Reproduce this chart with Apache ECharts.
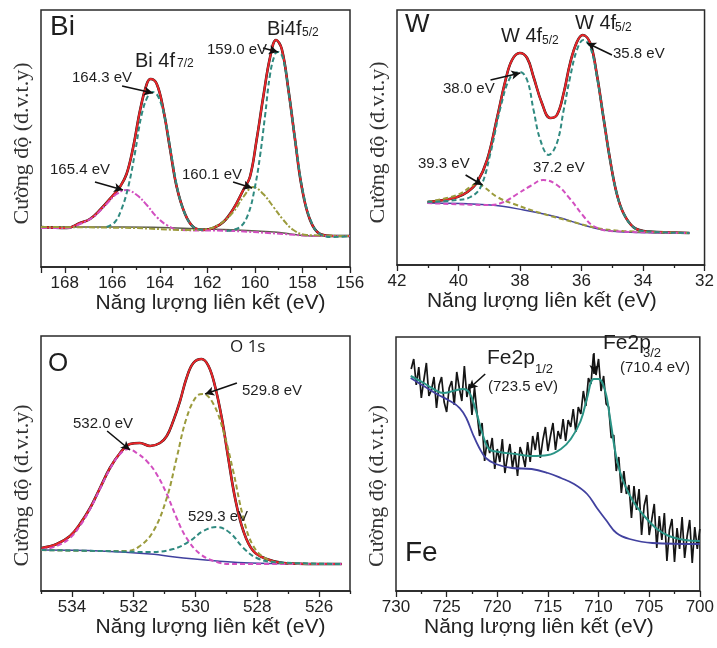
<!DOCTYPE html>
<html>
<head>
<meta charset="utf-8">
<script src="https://cdn.jsdelivr.net/npm/echarts/dist/echarts.min.js"></script>
<style>
  html, body { margin: 0; padding: 0; background: #fff; }
  #chart { width: 717px; height: 648px; }
</style>
</head>
<body>
<div id="chart"></div>
<script>
// ---- Bi 4f ----
const biEnvelope = [[169.00,40],[167.92,39],[167.36,44],[166.94,48],[166.52,57],[165.96,72],[165.68,80],[165.40,93],[165.12,120],[164.83,157],[164.55,183],[164.39,188],[164.13,183],[163.85,157],[163.57,118],[163.29,80],[162.94,53],[162.59,40],[162.17,37],[161.75,39],[161.33,45],[160.91,58],[160.49,77],[160.21,90],[159.93,127],[159.65,170],[159.36,210],[159.11,227],[158.87,218],[158.59,177],[158.31,127],[158.03,80],[157.68,47],[157.26,33],[156.70,31],[156.00,31]]
const biPeak1 = [[166.24,40],[165.89,45],[165.61,58],[165.33,80],[165.04,115],[164.76,153],[164.48,172],[164.30,175],[164.06,170],[163.78,148],[163.50,110],[163.22,74],[162.94,53],[162.59,40],[162.17,37]]
const biPeak2 = [[169.00,39],[167.92,39],[167.36,43],[166.80,50],[166.24,63],[165.82,73],[165.40,77],[164.97,72],[164.55,62],[164.13,50],[163.71,42],[163.15,37],[160.91,36],[158.80,33],[157.40,31],[156.00,31]]
const biPeak3 = [[169.00,40],[165.12,39],[162.87,37],[162.03,38],[161.47,43],[160.91,55],[160.49,70],[160.07,80],[159.65,73],[159.22,60],[158.80,47],[158.38,37],[157.82,32],[156.00,31]]
const biPeak4 = [[161.19,36],[160.63,40],[160.28,53],[160.00,80],[159.79,110],[159.58,150],[159.36,193],[159.15,213],[159.01,215],[158.80,207],[158.52,165],[158.24,115],[157.96,73],[157.61,44],[157.26,33],[156.70,30],[156.00,31]]
const biBase = [[169.00,40],[165.60,40],[162.00,38],[159.20,35],[157.60,31],[156.00,31]]
const biArrows = [[[165.59,181],[164.29,174]],[[159.66,219],[159.03,215]],[[166.73,85],[165.55,77]],[[160.92,85],[160.12,79]]]

// ---- W 4f ----
const wEnvelope = [[41.01,63],[40.47,65],[40.04,68],[39.71,73],[39.39,83],[39.07,105],[38.74,148],[38.47,185],[38.26,205],[38.01,212],[37.77,207],[37.56,188],[37.29,162],[37.02,147],[36.80,150],[36.58,172],[36.37,202],[36.15,223],[35.96,230],[35.72,222],[35.51,192],[35.29,148],[35.07,105],[34.86,72],[34.64,52],[34.32,38],[33.99,34],[33.56,33],[32.49,32]]
const wDoublet = [[41.01,63],[40.04,65],[39.61,68],[39.28,78],[38.96,112],[38.63,158],[38.31,188],[38.01,193],[37.77,185],[37.56,155],[37.34,125],[37.07,110],[36.80,122],[36.58,155],[36.37,188],[36.15,215],[35.94,225],[35.72,218],[35.51,190],[35.29,148],[35.07,105],[34.86,72],[34.64,52],[34.32,38],[33.99,34],[32.49,32]]
const wOxide1 = [[41.01,63],[40.04,70],[39.61,78],[39.39,82],[39.17,78],[38.74,68],[38.20,61],[37.34,52],[36.26,43],[35.51,37],[34.64,34],[32.49,32]]
const wOxide2 = [[41.01,62],[38.96,60],[38.53,63],[38.09,71],[37.66,79],[37.25,85],[36.80,80],[36.37,66],[35.94,49],[35.61,39],[35.07,34],[32.49,32]]
const wBase = [[41.01,62],[38.96,60],[37.88,55],[36.80,48],[35.94,40],[35.29,35],[34.64,33],[32.49,32]]
const wArrows = [[[38.96,185],[37.99,192]],[[35.01,210],[35.82,222]],[[39.77,90],[39.22,80]]]

// ---- O 1s ----
const oEnvelope = [[534.98,43],[534.49,47],[534.06,55],[533.74,67],[533.41,83],[533.09,103],[532.77,123],[532.44,138],[532.12,147],[531.80,148],[531.47,145],[531.15,148],[530.93,155],[530.72,170],[530.50,190],[530.29,213],[530.07,228],[529.80,232],[529.58,225],[529.37,205],[529.15,173],[528.94,133],[528.72,93],[528.45,60],[528.13,40],[527.70,32],[527.16,28],[526.08,27],[525.27,27]]
const oPeak1 = [[534.98,41],[534.49,45],[534.06,53],[533.74,65],[533.41,82],[533.09,102],[532.77,122],[532.44,137],[532.17,142],[531.90,138],[531.58,130],[531.26,117],[530.93,97],[530.61,73],[530.29,53],[529.85,37],[529.31,29],[528.78,27],[525.27,27]]
const oPeak2 = [[534.98,41],[533.09,40],[532.23,40],[531.80,45],[531.36,60],[530.93,93],[530.61,133],[530.29,173],[529.96,195],[529.75,197],[529.42,187],[529.10,160],[528.78,120],[528.45,73],[528.13,45],[527.70,32],[527.16,28],[525.27,27]]
const oPeak3 = [[534.98,41],[533.09,40],[531.47,39],[530.72,42],[530.18,50],[529.75,60],[529.31,64],[528.88,58],[528.45,43],[528.02,33],[527.48,29],[525.27,27]]
const oBase = [[534.98,41],[533.09,40],[531.47,37],[530.39,33],[529.31,30],[528.24,28],[525.27,27]]
const oArrows = [[[528.66,208],[529.69,197]],[[532.86,160],[532.12,141]]]

// ---- Fe 2p ----
const feRaw = [[728.5,222],[728.25,232],[728.0,206],[727.75,224],[727.5,193],[727.25,211],[727.0,228],[726.75,195],[726.5,201],[726.25,214],[726.0,183],[725.75,206],[725.5,214],[725.25,189],[725.0,179],[724.75,203],[724.5,210],[724.25,186],[724.0,219],[723.75,203],[723.5,190],[723.25,225],[723.0,194],[722.75,207],[722.5,176],[722.25,204],[722.0,178],[721.75,155],[721.5,168],[721.25,130],[721.0,151],[720.75,138],[720.5,153],[720.25,122],[720.0,142],[719.75,129],[719.5,152],[719.25,118],[719.0,134],[718.75,147],[718.5,123],[718.25,139],[718.0,115],[717.75,144],[717.5,136],[717.25,124],[717.0,149],[716.75,129],[716.5,155],[716.25,141],[716.0,159],[715.75,133],[715.5,151],[715.25,164],[715.0,140],[714.75,155],[714.5,168],[714.25,141],[714.0,160],[713.75,152],[713.5,172],[713.25,150],[713.0,171],[712.75,164],[712.5,182],[712.25,159],[712.0,184],[711.75,177],[711.5,200],[711.25,185],[711.0,213],[710.75,207],[710.5,237],[710.25,216],[710.0,232],[709.75,200],[709.5,215],[709.25,187],[709.0,184],[708.75,153],[708.5,156],[708.25,120],[708.0,134],[707.75,98],[707.5,120],[707.25,97],[707.0,106],[706.75,73],[706.5,105],[706.25,81],[706.0,102],[705.75,56],[705.5,85],[705.25,96],[705.0,56],[704.75,71],[704.5,87],[704.25,43],[704.0,75],[703.75,51],[703.5,78],[703.25,30],[703.0,61],[702.75,72],[702.5,29],[702.25,63],[702.0,42],[701.75,74],[701.5,33],[701.25,55],[701.0,71],[700.75,28],[700.5,64],[700.25,42],[700.0,62]]
const feFit = [[728.55,215],[727.26,208],[726.29,202],[725.32,198],[724.35,200],[723.39,202],[722.74,198],[722.10,180],[721.45,157],[720.81,142],[719.84,139],[718.23,137],[716.61,135],[715.00,136],[713.71,142],[712.74,152],[711.77,170],[711.13,193],[710.48,212],[710.00,212],[709.35,200],[708.87,173],[708.23,133],[707.58,110],[706.61,90],[705.65,77],[704.35,63],[703.06,55],[701.45,51],[700.00,50]]
const feBack = [[728.55,213],[727.26,205],[725.97,197],[724.68,190],[723.71,183],[723.06,173],[722.42,157],[721.77,143],[721.13,133],[720.16,127],[718.55,123],[716.61,122],[715.00,118],[713.71,113],[712.42,107],[711.13,97],[710.16,83],[709.19,70],[708.23,58],[706.94,52],[704.68,48],[700.00,47]]
const feArrows = [[[721.19,217],[722.84,202]],[[710.44,238],[710.44,217]]]

const oMajorTicks = [526, 528, 530, 532, 534]
const oMinorTicks = [525, 527, 529, 531, 533, 535]

const xName = 'Năng lượng liên kết (eV)'
const yName = 'Cường độ (đ.v.t.y)'

const RED = '#e8262a', BLACK = '#151515', TEAL = '#2f8a80', PINK = '#d24fc0',
      OLIVE = '#9b9b3c', BLUE = '#41419f', GRAY = '#5c5c4a'

const chart = echarts.init(document.getElementById('chart'))

const grids = [
  { left: 41, top: 10, width: 309, height: 257 },
  { left: 397, top: 10, width: 309, height: 255 },
  { left: 41, top: 336, width: 309, height: 255 },
  { left: 396, top: 337, width: 310, height: 254 },
].map(g => ({ ...g, show: true, borderColor: '#2a2a2a', borderWidth: 1.5, backgroundColor: 'transparent' }))

function xAxis(gi, min, max, interval, leftPanel) {
  return {
    type: 'value', gridIndex: gi, min, max, interval, inverse: true,
    axisLine: { show: true, lineStyle: { color: '#222', width: 1.5 } },
    axisTick: { show: true, length: 6, lineStyle: { color: '#222', width: 1.3 } },
    minorTick: { show: true, splitNumber: 2, length: 3, lineStyle: { color: '#222', width: 1.3 } },
    axisLabel: { margin: 8, fontSize: 17, color: '#222', fontFamily: 'Liberation Sans Narrow, Liberation Sans, Arial' },
    splitLine: { show: false }, minorSplitLine: { show: false },
    name: xName, nameLocation: 'middle', nameGap: 26,
    nameTextStyle: { fontSize: 21, color: '#222', fontFamily: 'Liberation Sans, Arial',
      padding: leftPanel ? [0, 0, 0, 30] : [0, 18, 0, 0] },
  }
}

const xAxes = [
  xAxis(0, 156, 169, 2, true),
  xAxis(1, 32, 42, 2, false),
  xAxis(2, 525, 535, null, true),
  xAxis(3, 700, 730, 5, false),
]
// O panel: even labels, minor ticks on odd values through a second axis
delete xAxes[2].interval
xAxes[2].minorTick = { show: false }
xAxes[2].axisLabel.customValues = oMajorTicks
xAxes[2].axisTick.customValues = oMajorTicks
xAxes.push({
  type: 'value', gridIndex: 2, min: 525, max: 535, inverse: true, position: 'bottom',
  axisLine: { show: false }, axisLabel: { show: false }, splitLine: { show: false },
  axisTick: { show: true, length: 3, customValues: oMinorTicks, lineStyle: { color: '#222', width: 1.3 } },
})

const yMax = [257, 255, 255, 254]
const yShift = [10, 10, 44, 44]   // pushes the rotated name down a little
const yAxes = yMax.map((m, gi) => ({
  type: 'value', gridIndex: gi, min: 0, max: m,
  axisLine: { show: false }, axisTick: { show: false }, axisLabel: { show: false }, splitLine: { show: false },
  name: yName, nameLocation: 'middle', nameGap: 8,
  nameTextStyle: { fontSize: 22, color: '#333', fontFamily: 'Liberation Serif, Times New Roman, serif',
    padding: [0, yShift[gi], 0, 0] },
}))

function line(gi, data, color, opts = {}) {
  return {
    type: 'line', xAxisIndex: gi, yAxisIndex: gi, data, showSymbol: false, silent: true,
    smooth: opts.smooth === undefined ? 0.4 : opts.smooth, z: opts.z || 2,
    lineStyle: { color, width: opts.width || 2, type: opts.type || 'solid' },
  }
}
function arrows(gi, list) {
  return {
    type: 'line', xAxisIndex: gi, yAxisIndex: gi, data: [], silent: true, z: 5,
    markLine: {
      silent: true, animation: false, symbol: ['none', 'arrow'], symbolSize: [7, 9],
      label: { show: false }, lineStyle: { color: '#111', width: 1.6, type: 'solid' },
      data: list.map(a => [{ coord: a[0] }, { coord: a[1] }]),
    },
  }
}
const dash = [5, 3], dashDot = [6, 2, 2, 2]

const series = [
  line(0, biBase, GRAY, { width: 1.5, z: 1 }),
  line(0, biEnvelope, BLACK, { width: 2.6, z: 2 }),
  line(0, biEnvelope, RED, { width: 2, z: 3 }),
  line(0, biPeak2, PINK, { type: dashDot, z: 4 }),
  line(0, biPeak3, OLIVE, { type: dashDot, z: 4 }),
  line(0, biPeak1, TEAL, { type: dash, z: 4 }),
  line(0, biPeak4, TEAL, { type: dash, z: 4 }),
  arrows(0, biArrows),

  line(1, wBase, BLUE, { width: 1.5, z: 1 }),
  line(1, wEnvelope, BLACK, { width: 2.6, z: 2 }),
  line(1, wEnvelope, RED, { width: 2, z: 3 }),
  line(1, wOxide1, OLIVE, { type: dash, z: 4 }),
  line(1, wOxide2, PINK, { type: dash, z: 4 }),
  line(1, wDoublet, TEAL, { type: dash, z: 4 }),
  arrows(1, wArrows),

  line(2, oBase, BLUE, { width: 1.5, z: 1 }),
  line(2, oEnvelope, BLACK, { width: 2.6, z: 2 }),
  line(2, oEnvelope, RED, { width: 2, z: 3 }),
  line(2, oPeak1, PINK, { type: dash, z: 4 }),
  line(2, oPeak2, OLIVE, { type: dash, z: 4 }),
  line(2, oPeak3, TEAL, { type: dash, z: 4 }),
  arrows(2, oArrows),

  line(3, feRaw, BLACK, { width: 1.7, smooth: false, z: 2 }),
  line(3, feBack, BLUE, { width: 1.8, z: 3 }),
  line(3, feFit, '#2a9486', { width: 2, z: 4 }),
  arrows(3, feArrows),
]

// annotation texts
const labels = [
  ['Bi', 50, 13, 28], ['Bi 4f', 135, 51, 20], ['7/2', 177, 58, 12],
  ['Bi4f', 267, 19, 20], ['5/2', 302, 27, 12],
  ['164.3 eV', 72, 70, 15], ['159.0 eV', 207, 42, 15], ['165.4 eV', 50, 162, 15], ['160.1 eV', 182, 167, 15],
  ['W', 405, 12, 26], ['W 4f', 501, 26, 20], ['5/2', 542, 35, 12],
  ['W 4f', 575, 13, 20], ['5/2', 615, 22, 12],
  ['38.0 eV', 443, 81, 15], ['35.8 eV', 613, 46, 15], ['39.3 eV', 418, 156, 15], ['37.2 eV', 533, 160, 15],
  ['O', 48, 351, 26], ['O 1s', 230, 339, 17, 'Open Sans'],
  ['529.8 eV', 242, 383, 15], ['532.0 eV', 73, 416, 15], ['529.3 eV', 188, 509, 15],
  ['Fe2p', 487, 348, 21], ['1/2', 535, 363, 13], ['(723.5 eV)', 488, 379, 15],
  ['Fe2p', 603, 333, 21], ['3/2', 643, 347, 13], ['(710.4 eV)', 620, 360, 15],
  ['Fe', 405, 539, 28],
]
const graphic = labels.map(([text, x, y, size, font]) => ({
  type: 'text', left: x, top: y, silent: true, z: 10,
  style: { text, fontSize: size, fill: '#1e1e1e', fontFamily: font || 'Liberation Sans, Arial' },
}))

chart.setOption({
  animation: false,
  grid: grids,
  xAxis: xAxes,
  yAxis: yAxes,
  series,
  graphic,
})
</script>
</body>
</html>
